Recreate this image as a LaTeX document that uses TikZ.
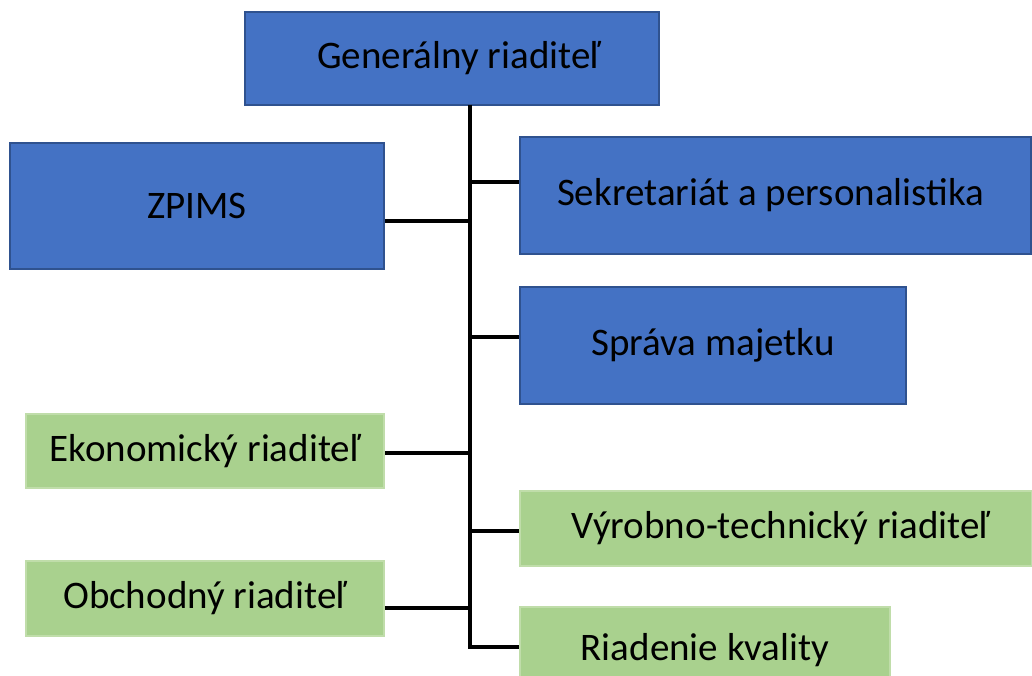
\documentclass[tikz,border=0pt]{standalone}
\usepackage{fontspec}
\setmainfont{Carlito}
\definecolor{bluefill}{HTML}{4472C4}
\definecolor{blueline}{HTML}{2F528F}
\definecolor{greenfill}{HTML}{A9D18E}
\definecolor{greenline}{HTML}{C0DDAA}
\begin{document}
\begin{tikzpicture}[x=1pt,y=-1pt,
  box/.style={rectangle, inner sep=0pt, align=center, font=\fontsize{39}{46}\selectfont},
  bluebox/.style={box, fill=bluefill, draw=blueline, line width=1.4pt},
  greenbox/.style={box, fill=greenfill, draw=greenline, line width=1.2pt},
  conn/.style={draw=black, line width=3.3pt}]
\useasboundingbox (0,0) rectangle (1032,676);
\node[bluebox, minimum width=414pt, minimum height=93pt] (gen) at (452,58.5) {\hspace*{14pt}Generálny riaditeľ};
\node[bluebox, minimum width=374pt, minimum height=126pt] (zpims) at (197,206) {ZPIMS};
\node[bluebox, minimum width=511pt, minimum height=117pt] (sekr) at (775.5,195.5) {Sekretariát a personalistika\hspace*{10pt}};
\node[bluebox, minimum width=386pt, minimum height=117pt] (sprava) at (713,345.5) {Správa majetku};
\node[greenbox, minimum width=358pt, minimum height=74pt] (ekon) at (205,451) {Ekonomický riaditeľ};
\node[greenbox, minimum width=512pt, minimum height=75pt] (vyrob) at (776,528.5) {\hspace*{10pt}Výrobno-technický riaditeľ};
\node[greenbox, minimum width=358pt, minimum height=75pt] (obch) at (205,598.5) {Obchodný riaditeľ};
\node[greenbox, minimum width=370pt, minimum height=86pt] (kval) at (705,650) {Riadenie kvality};
\coordinate (ttop) at (470,105);
\coordinate (tsekr) at (470,182);
\coordinate (tzpims) at (470,221);
\coordinate (tsprava) at (470,337);
\coordinate (tekon) at (470,453);
\coordinate (tvyrob) at (470,531);
\coordinate (tobch) at (470,608);
\coordinate (tkval) at (470,647);
\draw[conn] (ttop) -- (tkval) -- (tkval -| kval.west);
\draw[conn] (tsekr) -- (tsekr -| sekr.west);
\draw[conn] (tzpims) -- (tzpims -| zpims.east);
\draw[conn] (tsprava) -- (tsprava -| sprava.west);
\draw[conn] (tekon) -- (tekon -| ekon.east);
\draw[conn] (tvyrob) -- (tvyrob -| vyrob.west);
\draw[conn] (tobch) -- (tobch -| obch.east);
\end{tikzpicture}
\end{document}
